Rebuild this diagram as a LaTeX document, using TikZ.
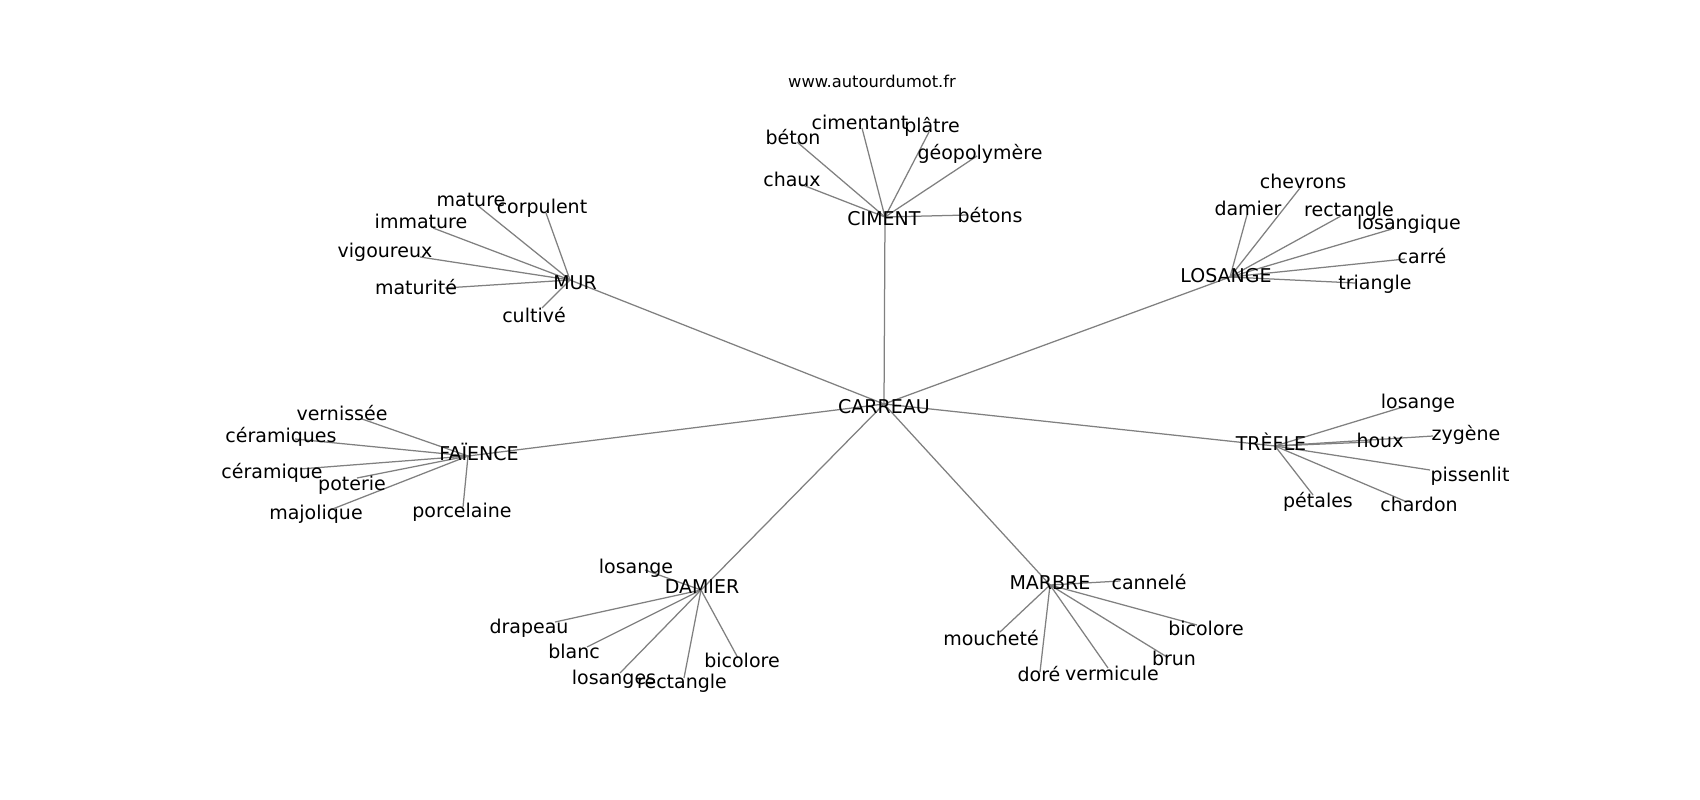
\documentclass[tikz,border=0pt]{standalone}
\usepackage{fontspec}
\setmainfont{DejaVu Sans}
\begin{document}
\begin{tikzpicture}[x=1pt,y=-1pt,
  lbl/.style={font=\fontsize{19}{22}\selectfont, inner sep=0pt, anchor=base, text=black},
  ttl/.style={font=\fontsize{16.3}{19}\selectfont, inner sep=0pt, anchor=base, text=black},
  edge/.style={draw=black!50, line width=1.25pt}]
\useasboundingbox (0,0) rectangle (1700,800);
\fill[white] (0,0) rectangle (1700,800);

% graph points
\coordinate (carreau) at (884,404);
\coordinate (ciment) at (885,217);
\coordinate (mur) at (570,280);
\coordinate (losange) at (1230,277);
\coordinate (faience) at (468,456);
\coordinate (trefle) at (1275,446);
\coordinate (damier) at (701,590);
\coordinate (marbre) at (1050,585);

\coordinate (c1) at (797,142);
\coordinate (c2) at (862,128);
\coordinate (c3) at (929,132);
\coordinate (c4) at (977,156);
\coordinate (c5) at (800,184);
\coordinate (c6) at (968,215);

\coordinate (m1) at (477,205);
\coordinate (m2) at (546,213);
\coordinate (m3) at (433,228);
\coordinate (m4) at (420,257);
\coordinate (m5) at (445,288);
\coordinate (m6) at (542,308);

\coordinate (l1) at (1300,188);
\coordinate (l2) at (1247,215);
\coordinate (l3) at (1341,216);
\coordinate (l4) at (1392,229);
\coordinate (l5) at (1405,259);
\coordinate (l6) at (1355,283);

\coordinate (f1) at (362,419);
\coordinate (f2) at (295,439);
\coordinate (f3) at (300,469);
\coordinate (f4) at (357,478);
\coordinate (f5) at (330,510);
\coordinate (f6) at (463,507);

\coordinate (t1) at (1403,407);
\coordinate (t2) at (1370,442);
\coordinate (t3) at (1433,436);
\coordinate (t4) at (1430,470);
\coordinate (t5) at (1407,502);
\coordinate (t6) at (1313,495);

\coordinate (d1) at (645,570);
\coordinate (d2) at (555,622);
\coordinate (d3) at (587,647);
\coordinate (d4) at (620,673);
\coordinate (d5) at (684,678);
\coordinate (d6) at (738,658);

\coordinate (r1) at (1120,581);
\coordinate (r2) at (1000,632);
\coordinate (r3) at (1040,672);
\coordinate (r4) at (1108,668);
\coordinate (r5) at (1167,657);
\coordinate (r6) at (1197,625);

% edges
\foreach \h in {ciment,mur,losange,faience,trefle,damier,marbre}
  \draw[edge] (carreau) -- (\h);
\foreach \p in {c1,c2,c3,c4,c5,c6} \draw[edge] (ciment) -- (\p);
\foreach \p in {m1,m2,m3,m4,m5,m6} \draw[edge] (mur) -- (\p);
\foreach \p in {l1,l2,l3,l4,l5,l6} \draw[edge] (losange) -- (\p);
\foreach \p in {f1,f2,f3,f4,f5,f6} \draw[edge] (faience) -- (\p);
\foreach \p in {t1,t2,t3,t4,t5,t6} \draw[edge] (trefle) -- (\p);
\foreach \p in {d1,d2,d3,d4,d5,d6} \draw[edge] (damier) -- (\p);
\foreach \p in {r1,r2,r3,r4,r5,r6} \draw[edge] (marbre) -- (\p);

% labels
\node[ttl] (title) at (872,88) {www.autourdumot.fr};

\node[lbl] (tcarreau) at (884,413) {CARREAU};
\node[lbl] (tciment) at (884,225) {CIMENT};
\node[lbl] (tmur) at (575,289) {MUR};
\node[lbl] (tlosange) at (1226,282) {LOSANGE};
\node[lbl] (tfaience) at (479,460) {FAÏENCE};
\node[lbl] (ttrefle) at (1271,450) {TRÈFLE};
\node[lbl] (tdamier) at (702,593) {DAMIER};
\node[lbl] (tmarbre) at (1050,589) {MARBRE};

\node[lbl] (tc1) at (793,144) {béton};
\node[lbl] (tc2) at (860,129) {cimentant};
\node[lbl] (tc3) at (932,132) {plâtre};
\node[lbl] (tc4) at (980,159) {géopolymère};
\node[lbl] (tc5) at (792,186) {chaux};
\node[lbl] (tc6) at (990,222) {bétons};

\node[lbl] (tm1) at (471,206) {mature};
\node[lbl] (tm2) at (542,213) {corpulent};
\node[lbl] (tm3) at (421,228) {immature};
\node[lbl] (tm4) at (385,257) {vigoureux};
\node[lbl] (tm5) at (416,294) {maturité};
\node[lbl] (tm6) at (534,322) {cultivé};

\node[lbl] (tl1) at (1303,188) {chevrons};
\node[lbl] (tl2) at (1248,215) {damier};
\node[lbl] (tl3) at (1349,216) {rectangle};
\node[lbl] (tl4) at (1409,229) {losangique};
\node[lbl] (tl5) at (1422,263) {carré};
\node[lbl] (tl6) at (1375,289) {triangle};

\node[lbl] (tf1) at (342,420) {vernissée};
\node[lbl] (tf2) at (281,442) {céramiques};
\node[lbl] (tf3) at (272,478) {céramique};
\node[lbl] (tf4) at (352,490) {poterie};
\node[lbl] (tf5) at (316,519) {majolique};
\node[lbl] (tf6) at (462,517) {porcelaine};

\node[lbl] (tt1) at (1418,408) {losange};
\node[lbl] (tt2) at (1380,447) {houx};
\node[lbl] (tt3) at (1466,440) {zygène};
\node[lbl] (tt4) at (1470,481) {pissenlit};
\node[lbl] (tt5) at (1419,511) {chardon};
\node[lbl] (tt6) at (1318,507) {pétales};

\node[lbl] (td1) at (636,573) {losange};
\node[lbl] (td2) at (529,633) {drapeau};
\node[lbl] (td3) at (574,658) {blanc};
\node[lbl] (td4) at (614,684) {losanges};
\node[lbl] (td5) at (682,688) {rectangle};
\node[lbl] (td6) at (742,667) {bicolore};

\node[lbl] (tr1) at (1149,589) {cannelé};
\node[lbl] (tr2) at (991,645) {moucheté};
\node[lbl] (tr3) at (1039,681) {doré};
\node[lbl] (tr4) at (1112,680) {vermicule};
\node[lbl] (tr5) at (1174,665) {brun};
\node[lbl] (tr6) at (1206,635) {bicolore};
\end{tikzpicture}
\end{document}
